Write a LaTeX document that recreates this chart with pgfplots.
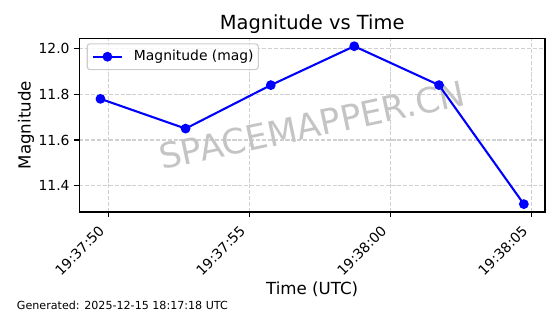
\documentclass[border=0pt]{standalone}
\usepackage{pgfplots}
\pgfplotsset{compat=1.18}
\usepackage{fontspec}
\setmainfont{DejaVu Sans}
\definecolor{gridgray}{RGB}{208,208,208}
\definecolor{leggray}{RGB}{204,204,204}
\definecolor{wmgray}{RGB}{196,196,196}
\begin{document}
\begin{tikzpicture}
\path[use as bounding box] (0pt,0pt) rectangle (403.2pt,226.08pt);
\begin{axis}[
  at={(57.1pt,73.44pt)}, anchor=south west,
  scale only axis, width=335.3pt, height=125.06pt,
  xmin=-1.044, xmax=15.465, ymin=11.2855, ymax=12.0445,
  axis line style={line width=0.8pt, black},
  tick align=outside, major tick length=3.5pt,
  every tick/.style={black, line width=0.8pt},
  xtick pos=bottom, ytick pos=left,
  xtick={0,5,10,15}, xticklabels={19:37:50,19:37:55,19:38:00,19:38:05},
  ytick={11.4,11.6,11.8,12.0}, yticklabels={11.4,11.6,11.8,12.0},
  ticklabel style={font=\fontsize{10}{12}\selectfont},
  xticklabel style={inner sep=0pt, xshift=-5pt, yshift=-8.3pt, rotate=45, anchor=east},
  grid=major,
  major grid style={gridgray, line width=0.8pt, dash pattern=on 2.96pt off 1.28pt},
  every axis title/.style={at={(0.5,1)}, anchor=base, yshift=6pt, font=\fontsize{14}{17}\selectfont},
  title={Magnitude vs Time},
  every axis x label/.style={at={(0.5,0)}, yshift=-59.4pt, anchor=base, font=\fontsize{12}{14}\selectfont},
  xlabel={Time (UTC)},
  every axis y label/.style={at={(0,0.5)}, xshift=-35.1pt, rotate=90, anchor=base, font=\fontsize{12}{14}\selectfont},
  ylabel={Magnitude},
  legend style={at={(0,1)}, anchor=north west, xshift=5.3pt, yshift=-3.6pt,
    draw=leggray, line width=0.8pt, rounded corners=2pt, fill=white, fill opacity=0.8, text opacity=1, draw opacity=1,
    font=\fontsize{10}{12}\selectfont, inner xsep=3.35pt, inner ysep=4.7pt,
    nodes={inner sep=0pt}, column sep=7.9pt},
  legend cell align=left,
  legend image code/.code={\draw[#1, opacity=1, mark repeat=2, mark phase=2] plot coordinates {(0pt,0pt) (10.45pt,0pt) (20.9pt,0pt)};},
]
\node[rotate=12, text=wmgray, font=\fontsize{25}{30}\selectfont] at (rel axis cs:0.5,0.5) {SPACEMAPPER.CN};
\addplot[color=blue, line width=1.5pt, mark=*, mark size=3pt, mark options={solid, fill=blue, line width=1pt}]
  coordinates {(-0.294,11.78) (2.724,11.65) (5.745,11.84) (8.702,12.01) (11.708,11.84) (14.715,11.32)};
\addlegendentry{Magnitude (mag)}
\end{axis}
\node[anchor=base west, font=\fontsize{8}{10}\selectfont, inner sep=0pt] at (12.0pt,3.6pt) {Generated: 2025-12-15 18:17:18 UTC};
\end{tikzpicture}
\end{document}
